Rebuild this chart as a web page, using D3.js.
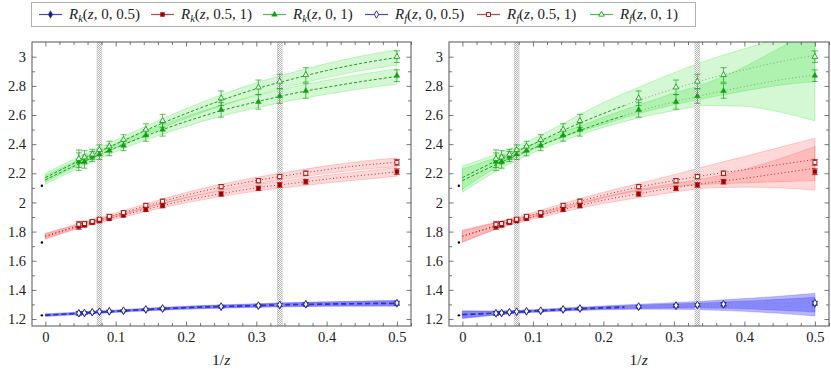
<!DOCTYPE html>
<html>
<head>
<meta charset="utf-8">
<script src="https://cdn.jsdelivr.net/npm/d3@7"></script>
<style>
  body { margin: 0; background: #fff; }
  text { font-family: "Liberation Serif", "DejaVu Serif", serif; fill: #222; }
</style>
</head>
<body>
<div id="chart"></div>
<script>
// ---- data ----
const xPts = [0.0476, 0.0556, 0.0667, 0.0769, 0.0909, 0.1111, 0.1429, 0.1667, 0.25, 0.3030, 0.3333, 0.3704, 0.5];

const rkBlue = [1.238, 1.240, 1.245, 1.249, 1.251, 1.255, 1.264, 1.270, 1.283, 1.290, 1.295, 1.299, 1.306];
const rfBlue = [1.240, 1.242, 1.247, 1.251, 1.254, 1.258, 1.267, 1.273, 1.286, 1.293, 1.298, 1.302, 1.310];
const errBlue = [0.012, 0.008, 0.006, 0.006, 0.006, 0.006, 0.007, 0.008, 0.008, 0.009, 0.010, 0.010, 0.012];

const rkRed = [1.835, 1.845, 1.862, 1.873, 1.889, 1.912, 1.952, 1.978, 2.058, 2.097, 2.120, 2.142, 2.211];
const rfRed = [1.850, 1.855, 1.870, 1.885, 1.905, 1.930, 1.980, 2.008, 2.108, 2.149, 2.177, 2.200, 2.275];
const errRed = [0.020, 0.015, 0.012, 0.012, 0.012, 0.012, 0.014, 0.015, 0.015, 0.015, 0.016, 0.016, 0.020];

const rkGreen = [2.280, 2.280, 2.315, 2.330, 2.355, 2.390, 2.460, 2.500, 2.635, 2.690, 2.730, 2.765, 2.870];
const rfGreen = [2.300, 2.310, 2.330, 2.360, 2.385, 2.430, 2.500, 2.560, 2.715, 2.790, 2.830, 2.875, 3.000];
const errGreen = [0.060, 0.045, 0.035, 0.035, 0.035, 0.035, 0.040, 0.045, 0.050, 0.050, 0.050, 0.050, 0.040];

// z -> infinity values (black dots)
const limX = -0.005;
const limY = [1.225, 1.725, 2.115];

// fit curves, sampled at fitX
const fitX = [0, 0.05, 0.1, 0.15, 0.2, 0.25, 0.3, 0.35, 0.4, 0.45, 0.5];

// left panel
const gLrk = [2.155, 2.27, 2.375, 2.47, 2.555, 2.63, 2.69, 2.745, 2.79, 2.83, 2.865];
const gLrf = [2.17, 2.29, 2.40, 2.51, 2.61, 2.70, 2.78, 2.845, 2.905, 2.955, 2.995];
const gLhw = [0.03, 0.028, 0.027, 0.03, 0.034, 0.038, 0.042, 0.045, 0.048, 0.05, 0.053];
const rLrk = [1.765, 1.84, 1.90, 1.96, 2.015, 2.06, 2.10, 2.13, 2.16, 2.185, 2.21];
const rLrf = [1.77, 1.845, 1.915, 1.985, 2.05, 2.105, 2.15, 2.19, 2.225, 2.255, 2.275];
const rLhw = [0.018, 0.014, 0.013, 0.015, 0.018, 0.02, 0.022, 0.024, 0.026, 0.028, 0.03];
const bLrk = [1.225, 1.238, 1.252, 1.265, 1.276, 1.284, 1.291, 1.297, 1.301, 1.304, 1.306];
const bLrf = [1.228, 1.241, 1.255, 1.268, 1.279, 1.287, 1.294, 1.300, 1.304, 1.307, 1.310];
const bLhw = [0.008, 0.007, 0.007, 0.008, 0.009, 0.01, 0.011, 0.013, 0.014, 0.016, 0.018];

// right panel
const gRrk = [2.15, 2.265, 2.37, 2.465, 2.55, 2.625, 2.69, 2.745, 2.795, 2.84, 2.875];
const gRrf = [2.17, 2.29, 2.40, 2.51, 2.61, 2.70, 2.78, 2.85, 2.91, 2.965, 3.01];
const gRrkHw = [0.08, 0.045, 0.03, 0.03, 0.035, 0.045, 0.06, 0.08, 0.135, 0.22, 0.315];
const gRrfHw = [0.08, 0.045, 0.035, 0.05, 0.075, 0.09, 0.11, 0.13, 0.145, 0.16, 0.18];
const rRrk = [1.765, 1.84, 1.90, 1.96, 2.015, 2.06, 2.10, 2.135, 2.165, 2.20, 2.234];
const rRrf = [1.77, 1.845, 1.915, 1.985, 2.05, 2.105, 2.15, 2.19, 2.225, 2.26, 2.295];
const rRrkHw = [0.04, 0.022, 0.016, 0.018, 0.022, 0.028, 0.03, 0.035, 0.06, 0.1, 0.15];
const rRrfHw = [0.04, 0.022, 0.016, 0.018, 0.02, 0.025, 0.04, 0.065, 0.09, 0.118, 0.145];
const bRrk = [1.228, 1.24, 1.253, 1.265, 1.274, 1.281, 1.285, 1.287, 1.288, 1.287, 1.285];
const bRrf = [1.232, 1.243, 1.256, 1.268, 1.279, 1.287, 1.294, 1.30, 1.305, 1.308, 1.312];
const bRhw = [0.025, 0.012, 0.008, 0.009, 0.011, 0.014, 0.018, 0.025, 0.035, 0.048, 0.064];

// hatched vertical markers
const vBands = [0.0769, 0.3333];

const xTicks = [0, 0.1, 0.2, 0.3, 0.4, 0.5];
const xMinor = [0.02, 0.04, 0.06, 0.08, 0.12, 0.14, 0.16, 0.18, 0.22, 0.24, 0.26, 0.28,
                0.32, 0.34, 0.36, 0.38, 0.42, 0.44, 0.46, 0.48, 0.52];
const yTicks = [1.2, 1.4, 1.6, 1.8, 2, 2.2, 2.4, 2.6, 2.8, 3];
const yMinor = [1.3, 1.5, 1.7, 1.9, 2.1, 2.3, 2.5, 2.7, 2.9];

const legendSubs = ["k", "k", "k", "f", "f", "f"];
const legendArgs = ["0, 0.5", "0.5, 1", "0, 1", "0, 0.5", "0.5, 1", "0, 1"];

// ---- styles ----
const BLUE = {mark: "#1c1c96", line: "#3434b0", band: "#3030ff", op: 0.35, leg: "#4a4ac0"};
const RED = {mark: "#a50000", line: "#b82a2a", band: "#ff4040", op: 0.2, leg: "#c04848"};
const GREEN = {mark: "#12a012", line: "#1c9a1c", band: "#22dd22", op: 0.2, leg: "#4cc04c"};

const W = 831, H = 375;
const TOP = 42, BOT = 326;

const svg = d3.select("#chart").append("svg")
    .attr("width", W).attr("height", H);
const defs = svg.append("defs");

const pat = defs.append("pattern").attr("id", "hatch")
    .attr("width", 2).attr("height", 2).attr("patternUnits", "userSpaceOnUse");
pat.append("rect").attr("width", 2).attr("height", 2).attr("fill", "#fff");
pat.append("rect").attr("width", 1).attr("height", 1).attr("fill", "#b4b4b4");
pat.append("rect").attr("x", 1).attr("y", 1).attr("width", 1).attr("height", 1).attr("fill", "#b4b4b4");

function symbolFor(kind) {
  if (kind == "diamond") return d3.symbol().type(d3.symbolDiamond).size(16);
  if (kind == "square") return d3.symbol().type(d3.symbolSquare).size(16);
  return d3.symbol().type(d3.symbolTriangle).size(14);
}

function drawPanel(left, right, fits, split) {
  const x = d3.scaleLinear().domain([-0.019, 0.52]).range([left, right]);
  const y = d3.scaleLinear().domain([1.152, 3.101]).range([BOT, TOP]);

  const clipId = "clip" + left;
  defs.append("clipPath").attr("id", clipId).append("rect")
      .attr("x", left).attr("y", TOP).attr("width", right - left).attr("height", BOT - TOP);
  defs.append("clipPath").attr("id", clipId + "a").append("rect")
      .attr("x", left).attr("y", TOP).attr("width", x(split) - left).attr("height", BOT - TOP);
  defs.append("clipPath").attr("id", clipId + "b").append("rect")
      .attr("x", x(split)).attr("y", TOP).attr("width", right - x(split)).attr("height", BOT - TOP);

  const plot = svg.append("g").attr("clip-path", `url(#${clipId})`);

  // error bands
  fits.forEach(f => {
    const area = d3.area()
        .x((d, i) => x(fitX[i]))
        .y0((d, i) => y(d - f.hw[i]))
        .y1((d, i) => y(d + f.hw[i]))
        .curve(d3.curveMonotoneX);
    plot.append("path").datum(f.c).attr("d", area)
        .attr("fill", f.col.band).attr("fill-opacity", f.col.op)
        .attr("stroke", f.col.band).attr("stroke-opacity", 0.35).attr("stroke-width", 0.7);
  });

  // central fit lines
  const lineGen = d3.line().x((d, i) => x(fitX[i])).y(d => y(d)).curve(d3.curveMonotoneX);
  fits.forEach(f => {
    plot.append("path").datum(f.c).attr("d", lineGen)
        .attr("clip-path", `url(#${clipId}a)`)
        .attr("fill", "none").attr("stroke", f.col.line).attr("stroke-width", f.sw)
        .attr("stroke-dasharray", f.dash);
    plot.append("path").datum(f.c).attr("d", lineGen)
        .attr("clip-path", `url(#${clipId}b)`)
        .attr("fill", "none").attr("stroke", f.ext ? f.ext : f.col.line).attr("stroke-width", 1)
        .attr("stroke-dasharray", f.ext ? "1,2.5" : f.dash);
  });

  // hatched vertical markers
  vBands.forEach(v => {
    plot.append("rect")
        .attr("x", x(v - 0.0035)).attr("width", x(v + 0.0035) - x(v - 0.0035))
        .attr("y", TOP).attr("height", BOT - TOP)
        .attr("fill", "url(#hatch)").attr("stroke", "#c8c8c8").attr("stroke-width", 0.5);
  });

  // data points with error bars
  const series = [
    {v: rkBlue, e: errBlue, col: BLUE, sym: "diamond", open: false},
    {v: rfBlue, e: errBlue, col: BLUE, sym: "diamond", open: true},
    {v: rkRed, e: errRed, col: RED, sym: "square", open: false},
    {v: rfRed, e: errRed, col: RED, sym: "square", open: true},
    {v: rkGreen, e: errGreen, col: GREEN, sym: "triangle", open: false},
    {v: rfGreen, e: errGreen, col: GREEN, sym: "triangle", open: true}
  ];
  series.forEach(s => {
    const gg = plot.append("g");
    xPts.forEach((xv, i) => {
      const cx = x(xv), lo = y(s.v[i] - s.e[i]), hi = y(s.v[i] + s.e[i]);
      gg.append("line").attr("x1", cx).attr("x2", cx).attr("y1", lo).attr("y2", hi)
          .attr("stroke", s.col.mark).attr("stroke-opacity", 0.75).attr("stroke-width", 0.9);
      [lo, hi].forEach(yy => gg.append("line")
          .attr("x1", cx - 3).attr("x2", cx + 3).attr("y1", yy).attr("y2", yy)
          .attr("stroke", s.col.mark).attr("stroke-opacity", 0.75).attr("stroke-width", 0.9));
    });
    gg.selectAll("path.m").data(s.v).join("path").attr("class", "m")
        .attr("d", symbolFor(s.sym))
        .attr("transform", (d, i) => `translate(${x(xPts[i])},${y(d)})`)
        .attr("fill", s.open ? "#fff" : s.col.mark)
        .attr("stroke", s.col.mark).attr("stroke-width", s.open ? 0.9 : 0.5);
  });

  plot.selectAll("circle.lim").data(limY).join("circle").attr("class", "lim")
      .attr("cx", x(limX)).attr("cy", d => y(d)).attr("r", 1.2).attr("fill", "#000");

  // axes, ticks inward on all four sides
  const axCol = "#555";
  const mk = (axis, tx, ty, vals, len, labels) => {
    const a = svg.append("g").attr("transform", `translate(${tx},${ty})`)
        .call(axis.tickValues(vals).tickSize(-len).tickPadding(labels ? 6 : 0)
              .tickFormat(labels ? (d => String(d)) : ""));
    a.select(".domain").remove();
    a.selectAll("line").attr("stroke", axCol).attr("stroke-width", 0.8);
    a.selectAll("text").attr("font-size", 14.5).attr("font-family", "'Liberation Serif', serif").attr("fill", "#222");
    return a;
  };
  mk(d3.axisBottom(x), 0, BOT, xTicks, 4.5, true);
  mk(d3.axisBottom(x), 0, BOT, xMinor, 3, false);
  mk(d3.axisTop(x), 0, TOP, xTicks, 4.5, false);
  mk(d3.axisTop(x), 0, TOP, xMinor, 3, false);
  mk(d3.axisLeft(y), left, 0, yTicks, 4.5, true);
  mk(d3.axisLeft(y), left, 0, yMinor, 3, false);
  mk(d3.axisRight(y), right, 0, yTicks, 4.5, false);
  mk(d3.axisRight(y), right, 0, yMinor, 3, false);

  svg.append("rect").attr("x", left).attr("y", TOP)
      .attr("width", right - left).attr("height", BOT - TOP)
      .attr("fill", "none").attr("stroke", axCol).attr("stroke-width", 1);

  const lab = svg.append("text").attr("x", x(0.25)).attr("y", 365)
      .attr("text-anchor", "middle").attr("font-size", 15.5);
  lab.append("tspan").text("1/");
  lab.append("tspan").attr("font-style", "italic").text("z");
}

drawPanel(32, 411, [
  {c: gLrk, hw: gLhw, col: GREEN, dash: "3,2", sw: 1},
  {c: gLrf, hw: gLhw, col: GREEN, dash: "3,2", sw: 1},
  {c: rLrk, hw: rLhw, col: RED, dash: "1,2.5", sw: 1},
  {c: rLrf, hw: rLhw, col: RED, dash: "1,2.5", sw: 1},
  {c: bLrk, hw: bLhw, col: BLUE, dash: "5,3", sw: 1.2},
  {c: bLrf, hw: bLhw, col: BLUE, dash: "5,3", sw: 1.2}
], 0.6);

drawPanel(449, 829, [
  {c: gRrk, hw: gRrkHw, col: GREEN, dash: "3,2", sw: 1, ext: "#7aa87a"},
  {c: gRrf, hw: gRrfHw, col: GREEN, dash: "3,2", sw: 1, ext: "#7aa87a"},
  {c: rRrk, hw: rRrkHw, col: RED, dash: "1,2.5", sw: 1},
  {c: rRrf, hw: rRrfHw, col: RED, dash: "1,2.5", sw: 1},
  {c: bRrk, hw: bRhw, col: BLUE, dash: "5,3", sw: 1.2, ext: "#8484b4"},
  {c: bRrf, hw: bRhw, col: BLUE, dash: "5,3", sw: 1.2, ext: "#8484b4"}
], 0.23);

// ---- legend ----
const legCols = [BLUE, RED, GREEN, BLUE, RED, GREEN];
const legSyms = ["diamond", "square", "triangle", "diamond", "square", "triangle"];
const legLineX = [39, 151, 263, 365, 477, 590];

svg.append("rect").attr("x", 31.5).attr("y", 2.5).attr("width", 664).attr("height", 24)
    .attr("fill", "#fff").attr("stroke", "#b0b0b0").attr("stroke-width", 1);

legendArgs.forEach((arg, i) => {
  const lx = legLineX[i], ly = 14.5;
  const col = legCols[i];
  svg.append("line").attr("x1", lx).attr("x2", lx + 23).attr("y1", ly).attr("y2", ly)
      .attr("stroke", col.leg).attr("stroke-width", 1.2);
  const open = i >= 3;
  svg.append("path").attr("d", symbolFor(legSyms[i])())
      .attr("transform", `translate(${lx + 11.5},${ly})`)
      .attr("fill", open ? "#fff" : col.mark).attr("stroke", col.mark)
      .attr("stroke-width", open ? 0.9 : 0.5);
  const t = svg.append("text").attr("x", lx + 30).attr("y", 19).attr("font-size", 15);
  t.append("tspan").attr("font-style", "italic").text("R");
  t.append("tspan").attr("font-style", "italic").attr("font-size", 10.5).attr("dy", 3).text(legendSubs[i]);
  t.append("tspan").attr("dy", -3).text("(");
  t.append("tspan").attr("font-style", "italic").text("z");
  t.append("tspan").text(", " + arg + ")");
});
</script>
</body>
</html>
